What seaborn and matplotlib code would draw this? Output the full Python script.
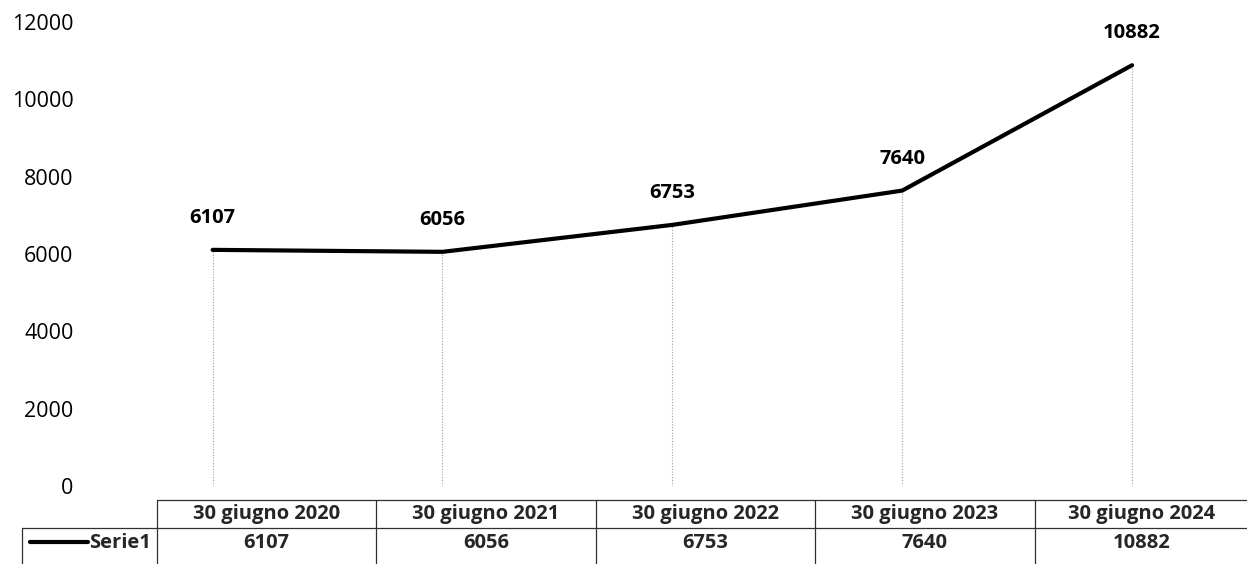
import matplotlib
matplotlib.use('agg')
import matplotlib.pyplot as plt
from matplotlib.lines import Line2D
import seaborn as sns
import pandas as pd

# data
dates = ['30 giugno 2020', '30 giugno 2021', '30 giugno 2022', '30 giugno 2023', '30 giugno 2024']
values = [6107, 6056, 6753, 7640, 10882]
series_name = 'Serie1'
yticks = [0, 2000, 4000, 6000, 8000, 10000, 12000]

W, H = 1247, 564

sns.set_theme(style='white')
plt.rcParams['font.family'] = ['Open Sans', 'DejaVu Sans']

df = pd.DataFrame({'pos': range(len(dates)), 'value': values, 'date': dates})

fig = plt.figure(figsize=(W / 100, H / 100), dpi=100)
ax = fig.add_axes([100 / W, 1 - 486 / H, 1147 / W, 464 / H])

# dotted drop lines to the axis
ax.vlines(df['pos'], 0, df['value'], colors='#a0a0a0', linestyles=(0, (1, 1.5)), lw=0.8, zorder=1)

sns.lineplot(data=df, x='pos', y='value', ax=ax, color='black', lw=3,
             legend=False, zorder=3)

for x, v in zip(df['pos'], df['value']):
    ax.annotate(str(v), (x, v), xytext=(0, 23), textcoords='offset points',
                ha='center', va='center', fontsize=14.5, fontweight='bold', color='black')

ax.set_xlim(-0.49, 4.5)
ax.set_ylim(0, 12000)
ax.set_yticks(yticks)
ax.set_yticklabels([str(t) for t in yticks], fontsize=15.5, color='black')
ax.tick_params(axis='y', length=0, pad=19)
ax.set_xticks([])
ax.set_xlabel('')
ax.set_ylabel('')
for s in ax.spines.values():
    s.set_visible(False)


# data table under the plot, drawn in pixel positions of the figure
def px(x, y):
    return x / W, 1 - y / H


col_edges = [157, 376, 596, 815, 1035, 1255]
row_top, row_mid, row_bot = 500, 528, 564
line_kw = dict(color='#303030', lw=0.9, transform=fig.transFigure)

x0, y0 = px(157, row_top); x1, _ = px(W, row_top)
fig.add_artist(Line2D([x0, x1], [y0, y0], **line_kw))
x0, y0 = px(22, row_mid)
fig.add_artist(Line2D([x0, x1], [y0, y0], **line_kw))
for e in col_edges[:-1]:
    a, b = px(e, row_top)
    _, c = px(e, row_bot)
    fig.add_artist(Line2D([a, a], [b, c], **line_kw))
a, b = px(22, row_mid)
_, c = px(22, row_bot)
fig.add_artist(Line2D([a, a], [b, c], **line_kw))

for i, (d, v) in enumerate(zip(dates, values)):
    cx = (col_edges[i] + col_edges[i + 1]) / 2
    if i == len(dates) - 1:
        cx = 1142
    fig.text(*px(cx, 514), d, ha='center', va='center', fontsize=14.5, fontweight='bold')
    fig.text(*px(cx, 543), str(v), ha='center', va='center', fontsize=14.5, fontweight='bold')

# legend key in the row header
a, b = px(30, 542)
c, _ = px(88, 542)
fig.add_artist(Line2D([a, c], [b, b], color='black', lw=3, transform=fig.transFigure))
fig.text(*px(151, 543), series_name, ha='right', va='center', fontsize=14.5, fontweight='bold')

fig.savefig('out.png', dpi=100, facecolor='white')
